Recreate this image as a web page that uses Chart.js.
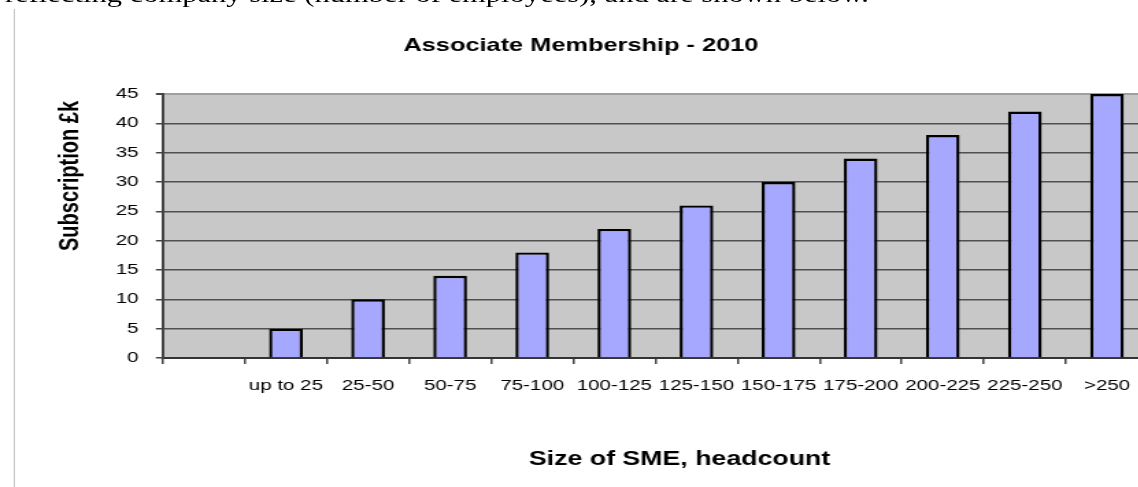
<!DOCTYPE html>
<html>
<head>
<meta charset="utf-8">
<script src="https://cdn.jsdelivr.net/npm/chart.js@4/dist/chart.umd.min.js"></script>
<style>
html, body { margin: 0; padding: 0; background: #fff; overflow: hidden; width: 1138px; height: 487px; }
#wrap { position: absolute; left: 0; top: 0; width: 831px; height: 487px; transform: scaleX(1.37); transform-origin: 0 0; }
#intro { position: absolute; left: 3.6px; top: -16.5px; font-family: "Liberation Serif", "Times New Roman", serif; font-size: 22.3px; line-height: 1; white-space: nowrap; color: #000; }
#frame { position: absolute; left: 9.5px; top: 9px; width: 1px; height: 478px; background: #c8c8c8; }
#mycanvas { position: absolute; left: 9.5px; top: 0; }
</style>
</head>
<body>
<div id="wrap">
	<div id="intro">reflecting company size (number of employees), and are shown below.</div>
	<div id="frame"></div>
	<canvas id="mycanvas" width="831" height="487"></canvas>
</div>
<script>
var sizes = ['', 'up to 25', '25-50', '50-75', '75-100', '100-125', '125-150', '150-175', '175-200', '200-225', '225-250', '>250'];
var subscription = [null, 5, 10, 14, 18, 22, 26, 30, 34, 38, 42, 45];
var yTicks = [0, 5, 10, 15, 20, 25, 30, 35, 40, 45];

var chartTitle = 'Associate Membership - 2010';
var xTitle = 'Size of SME, headcount';
var yTitle = 'Subscription £k';

var family = '"Liberation Sans", Arial, sans-serif';

// grey plot area like the old Excel charts
var plotBackground = {
	id: 'plotBackground',
	beforeDraw: function(chart) {
		var a = chart.chartArea;
		var c = chart.ctx;
		c.save();
		c.fillStyle = '#c8c8c8';
		c.fillRect(a.left, a.top, a.right - a.left, a.bottom - a.top);
		c.restore();
	}
};

// axis titles sit off-centre in the original, so draw them by hand
var axisTitles = {
	id: 'axisTitles',
	afterDraw: function(chart) {
		var c = chart.ctx;
		c.save();
		c.fillStyle = '#000';
		c.textAlign = 'center';
		c.textBaseline = 'middle';
		c.font = 'bold 19.5px ' + family;
		c.fillText(xTitle, 486, 460);
		c.translate(41.6, 176);
		c.rotate(-Math.PI / 2);
		c.font = 'bold 20px ' + family;
		c.fillText(yTitle, 0, 0);
		c.restore();
	}
};

var ctx = document.getElementById('mycanvas');

var barGraph = new Chart(ctx, {
	type: 'bar',
	data: {
		labels: sizes,
		datasets: [
			{
				label: yTitle,
				data: subscription,
				backgroundColor: '#a6a8ff',
				borderColor: '#000',
				borderWidth: 2.4,
				barPercentage: 0.41,
				categoryPercentage: 1
			}
		]
	},
	options: {
		responsive: false,
		animation: false,
		devicePixelRatio: 1,
		layout: { padding: { left: 0, right: 3, top: 0, bottom: 0 } },
		plugins: {
			legend: { display: false },
			tooltip: { enabled: false },
			title: {
				display: true,
				text: chartTitle,
				color: '#000',
				font: { family: family, size: 18.5, weight: 'bold' },
				padding: { top: 35, bottom: 36.8 }
			}
		},
		scales: {
			x: {
				afterFit: function(scale) { scale.height = 129; },
				grid: {
					offset: true,
					drawOnChartArea: false,
					drawTicks: true,
					tickLength: 6,
					color: '#444',
					lineWidth: 1.5
				},
				border: { display: true, color: '#333', width: 2 },
				ticks: {
					color: '#000',
					padding: 13,
					maxRotation: 0,
					autoSkip: false,
					font: { family: family, size: 15 }
				}
			},
			y: {
				min: 0,
				max: 45,
				afterFit: function(scale) { scale.width = 108.8; },
				afterBuildTicks: function(scale) {
					scale.ticks = yTicks.map(function(v) { return { value: v }; });
				},
				grid: {
					color: function(c) { return c.tick && c.tick.value === 45 ? '#a0a0a0' : '#505050'; },
					lineWidth: function(c) { return c.tick && c.tick.value === 45 ? 2 : 1.5; },
					tickColor: '#444',
					tickLength: 5,
					drawTicks: true
				},
				border: { display: true, color: '#444', width: 2 },
				ticks: {
					color: '#000',
					padding: 12.6,
					font: { family: family, size: 15 }
				}
			}
		}
	},
	plugins: [plotBackground, axisTitles]
});
</script>
</body>
</html>
